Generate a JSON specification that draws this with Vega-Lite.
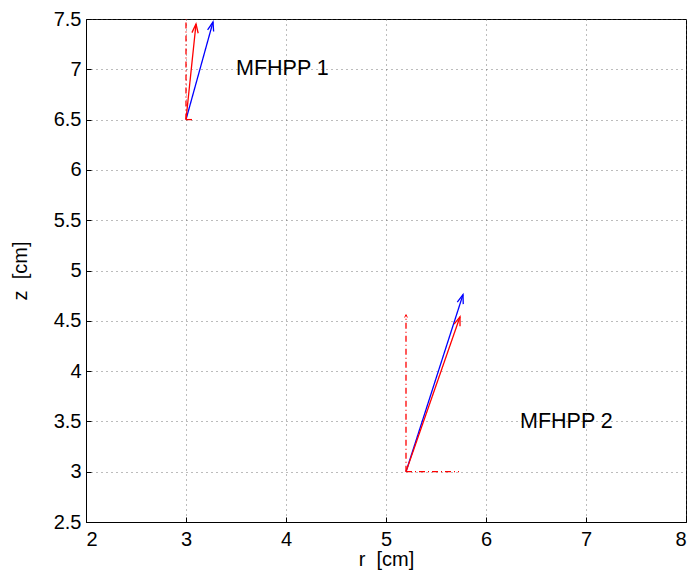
{
  "$schema": "https://vega.github.io/schema/vega-lite/v6.json",
  "width": 600,
  "height": 503,
  "autosize": "none",
  "padding": {"left": 86, "top": 19, "right": 11, "bottom": 55},
  "background": "white",
  "config": {
    "font": "Liberation Sans",
    "view": {"stroke": "#000", "strokeWidth": 1},
    "axis": {
      "labelFont": "Liberation Sans",
      "titleFont": "Liberation Sans",
      "labelFontSize": 20,
      "titleFontSize": 20,
      "titleFontWeight": "normal",
      "labelColor": "#000",
      "titleColor": "#000",
      "domainColor": "#000",
      "tickColor": "#000",
      "grid": true,
      "gridColor": "#555",
      "gridDash": [1, 4],
      "gridWidth": 0.8
    }
  },
  "datasets": {
    "arrows": [
      {"probe": "MFHPP 1", "kind": "measured", "r": 3.0, "z": 6.5, "r2": 3.27, "z2": 7.47},
      {"probe": "MFHPP 1", "kind": "fitted", "r": 3.0, "z": 6.5, "r2": 3.10, "z2": 7.45},
      {"probe": "MFHPP 1", "kind": "fitted z", "r": 3.0, "z": 6.5, "r2": 3.0, "z2": 7.5},
      {"probe": "MFHPP 1", "kind": "fitted r", "r": 3.0, "z": 6.5, "r2": 3.09, "z2": 6.5},
      {"probe": "MFHPP 2", "kind": "measured", "r": 5.2, "z": 3.0, "r2": 5.77, "z2": 4.76},
      {"probe": "MFHPP 2", "kind": "fitted", "r": 5.2, "z": 3.0, "r2": 5.74, "z2": 4.54},
      {"probe": "MFHPP 2", "kind": "fitted z", "r": 5.2, "z": 3.0, "r2": 5.2, "z2": 4.56},
      {"probe": "MFHPP 2", "kind": "fitted r", "r": 5.2, "z": 3.0, "r2": 5.73, "z2": 3.0}
    ],
    "labels": [
      {"label": "MFHPP 1", "r": 3.5, "z": 7.0},
      {"label": "MFHPP 2", "r": 6.34, "z": 3.49}
    ]
  },
  "layer": [
    {
      "data": {"name": "arrows"},
      "mark": {"type": "rule", "strokeWidth": 1.3},
      "encoding": {
        "x": {"field": "r", "type": "quantitative", "scale": {"domain": [2, 8], "nice": false, "zero": false},
              "axis": {"title": "r\u00a0\u00a0[cm]", "values": [2, 3, 4, 5, 6, 7, 8], "format": "d", "tickSize": -5, "labelPadding": 12, "titlePadding": 0}},
        "y": {"field": "z", "type": "quantitative", "scale": {"domain": [2.5, 7.5], "nice": false, "zero": false},
              "axis": {"title": "z\u00a0\u00a0[cm]", "values": [2.5, 3, 3.5, 4, 4.5, 5, 5.5, 6, 6.5, 7, 7.5], "format": "~g", "tickSize": -5, "labelPadding": 10, "titlePadding": 23}},
        "x2": {"field": "r2"},
        "y2": {"field": "z2"},
        "color": {"field": "kind", "type": "nominal", "legend": null,
                  "scale": {"domain": ["measured", "fitted", "fitted z", "fitted r"], "range": ["#0000ff", "#ff0000", "#ff0000", "#ff0000"]}},
        "strokeDash": {"field": "kind", "type": "nominal", "legend": null,
                  "scale": {"domain": ["measured", "fitted", "fitted z", "fitted r"], "range": [[1, 0], [1, 0], [6, 3, 1, 3], [6, 3, 1, 3]]}}
      }
    },
    {
      "data": {"name": "arrows"},
      "transform": [
        {"filter": "datum.kind == 'measured' || datum.kind == 'fitted'"},
        {"calculate": "atan2((datum.r2 - datum.r) * 100, (datum.z2 - datum.z) * 100.6) * 180 / PI", "as": "heading"}
      ],
      "mark": {"type": "point", "shape": "M -0.35 1 L 0 0 L 0.35 1", "filled": false, "strokeWidth": 1.3, "opacity": 1, "size": 320},
      "encoding": {
        "x": {"field": "r2", "type": "quantitative"},
        "y": {"field": "z2", "type": "quantitative"},
        "angle": {"field": "heading", "type": "quantitative", "scale": null},
        "color": {"field": "kind", "type": "nominal", "legend": null,
                  "scale": {"domain": ["measured", "fitted", "fitted z", "fitted r"], "range": ["#0000ff", "#ff0000", "#ff0000", "#ff0000"]}}
      }
    },
    {
      "data": {"name": "arrows"},
      "transform": [
        {"filter": "datum.kind == 'fitted z' && datum.probe == 'MFHPP 2'"},
        {"calculate": "atan2((datum.r2 - datum.r) * 100, (datum.z2 - datum.z) * 100.6) * 180 / PI", "as": "heading"}
      ],
      "mark": {"type": "point", "shape": "M -0.5 1 L 0 0 L 0.5 1", "filled": false, "strokeWidth": 1, "opacity": 1, "size": 30},
      "encoding": {
        "x": {"field": "r2", "type": "quantitative"},
        "y": {"field": "z2", "type": "quantitative"},
        "angle": {"field": "heading", "type": "quantitative", "scale": null},
        "color": {"field": "kind", "type": "nominal", "legend": null,
                  "scale": {"domain": ["measured", "fitted", "fitted z", "fitted r"], "range": ["#0000ff", "#ff0000", "#ff0000", "#ff0000"]}}
      }
    },
    {
      "data": {"name": "labels"},
      "mark": {"type": "text", "align": "left", "baseline": "middle", "fontSize": 21.5, "font": "Liberation Sans", "color": "#000"},
      "encoding": {
        "x": {"field": "r", "type": "quantitative"},
        "y": {"field": "z", "type": "quantitative"},
        "text": {"field": "label"}
      }
    }
  ]
}
